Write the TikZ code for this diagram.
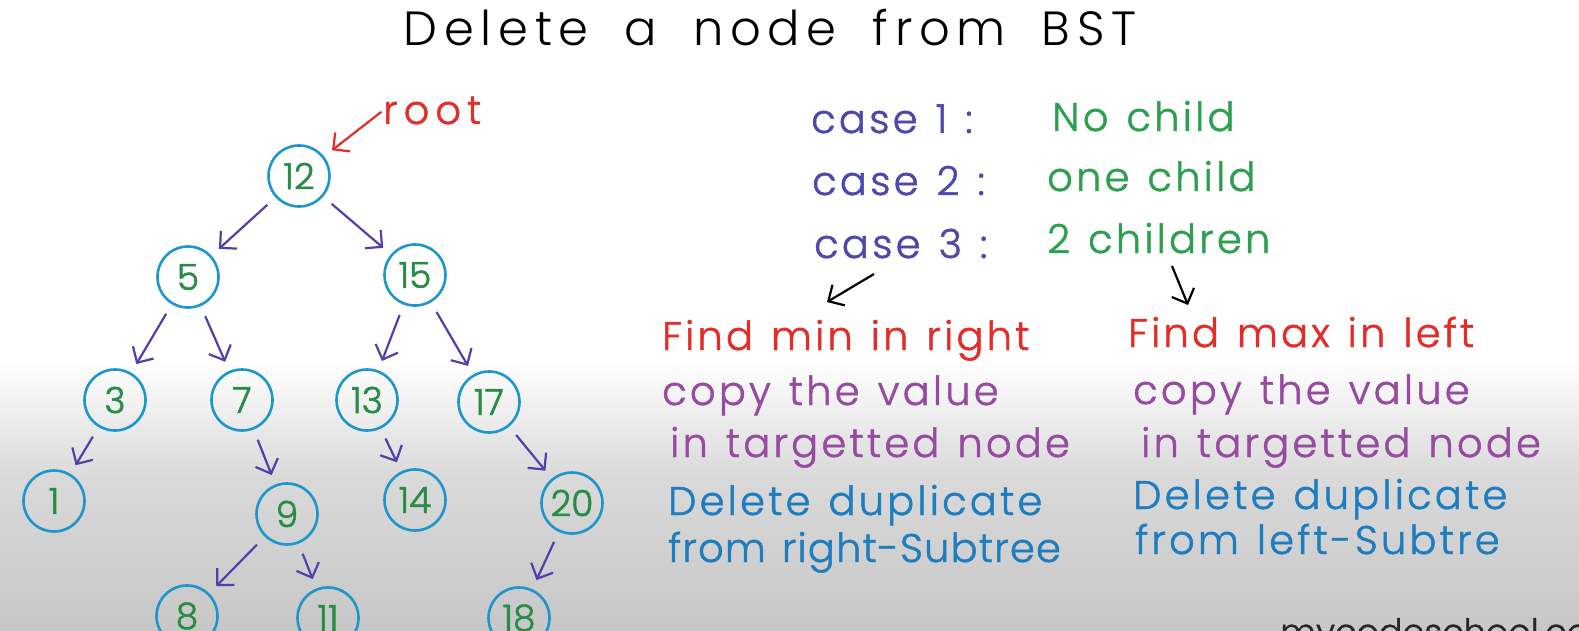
\documentclass[tikz,border=0pt]{standalone}
\usepackage{fontspec}
\setmainfont{Poppins Light}
\usetikzlibrary{arrows.meta}
\definecolor{ringblue}{RGB}{28,150,205}
\definecolor{numgreen}{RGB}{40,140,70}
\definecolor{edgeblue}{RGB}{78,66,170}
\definecolor{caseblue}{RGB}{78,72,172}
\definecolor{txtgreen}{RGB}{45,160,80}
\definecolor{txtred}{RGB}{226,45,40}
\definecolor{txtpurple}{RGB}{150,75,160}
\definecolor{txtblue}{RGB}{30,125,190}

\begin{document}
\begin{tikzpicture}[
    x=1pt, y=-1pt,
    key/.style={
        circle,
        draw=ringblue,
        line width=2.6pt,
        minimum size=61pt,
        inner sep=0pt,
        text=numgreen,
        font={\fontsize{36}{36}\selectfont\addfontfeature{FakeBold=1.5}}
    },
    edge/.style={
        -{Straight Barb[length=12pt,width=24pt]},
        draw=edgeblue,
        line width=2.2pt,
        shorten <=11pt,
        shorten >=10pt
    },
    hand/.style={
        -{Straight Barb[length=12pt,width=24pt]},
        line width=2.2pt
    },
    note/.style={
        anchor=base west,
        inner sep=0pt,
        font={\fontsize{40}{40}\selectfont\addfontfeature{LetterSpace=8,FakeBold=1.2}\spaceskip=18pt plus 4pt}
    }
]

% background
\clip (0,0) rectangle (1579,631);
\fill[white] (0,0) rectangle (1579,631);
\shade[top color=white, bottom color=black!15] (0,360) rectangle (1579,480);
\shade[top color=black!15, bottom color=black!22] (0,480) rectangle (1579,631);

% title
\node[font={\fontsize{48}{48}\selectfont\addfontfeature{LetterSpace=14}\spaceskip=36pt plus 4pt}] (title) at (770,28) {Delete a node from BST};

% tree
\node[key] (n12) at (299,176) {12};
\node[key] (n5)  at (188,277) {5};
\node[key] (n15) at (415,275) {15};
\node[key] (n3)  at (115,400) {3};
\node[key] (n7)  at (242,400) {7};
\node[key] (n13) at (367,400) {13};
\node[key] (n17) at (489,402) {17};
\node[key] (n1)  at (54,501)  {1};
\node[key] (n9)  at (287,514) {9};
\node[key] (n14) at (415,500) {14};
\node[key] (n20) at (572,503) {20};
\node[key] (n8)  at (187,616) {8};
\node[key] (n11) at (328,618) {11};
\node[key] (n18) at (519,618) {18};

\draw[edge] (n12) -- (n5);
\draw[edge] (n12) -- (n15);
\draw[edge] (n5) -- (n3);
\draw[edge] (n5) -- (n7);
\draw[edge] (n15) -- (n13);
\draw[edge] (n15) -- (n17);
\draw[edge] (n3) -- (n1);
\draw[edge] (n7) -- (n9);
\draw[edge] (n13) -- (n14);
\draw[edge] (n17) -- (n20);
\draw[edge] (n9) -- (n8);
\draw[edge] (n9) -- (n11);
\draw[edge] (n20) -- (n18);

% root pointer
\node[note, text=txtred, font={\fontsize{40}{40}\selectfont\addfontfeature{LetterSpace=15,FakeBold=1.2}}] (rootlbl) at (383,124) {root};
\draw[hand, txtred, shorten <=2pt, shorten >=10pt] (rootlbl.west) -- (n12);

% cases
\node[note, text=caseblue] (case1) at (811,133) {case 1 :};
\node[note, text=txtgreen] (nochild) at (1052,131) {No child};
\node[note, text=caseblue] (case2) at (812,195) {case 2 :};
\node[note, text=txtgreen] (onechild) at (1047,191) {one child};
\node[note, text=caseblue] (case3) at (814,258) {case 3 :};
\node[note, text=txtgreen] (twochild) at (1047,253) {2 children};

\coordinate (splitL) at (874,274);
\coordinate (splitLend) at (827,302);
\coordinate (splitR) at (1172,266);
\coordinate (splitRend) at (1188,305);
\draw[hand, black] (splitL) -- (splitLend);
\draw[hand, black] (splitR) -- (splitRend);

% left column
\node[note, text=txtred] (findmin) at (662,350) {Find min in right};
\node[note, text=txtpurple] (copyL) at (662,405) {copy the value};
\node[note, text=txtpurple] (targL) at (670,457) {in targetted node};
\node[note, text=txtblue] (dupL) at (668,515) {Delete duplicate};
\node[note, text=txtblue, font={\fontsize{40}{40}\selectfont\addfontfeature{LetterSpace=3,FakeBold=1.2}\spaceskip=16pt plus 4pt}] (fromL) at (668,562) {from right-Subtree};

% right column
\node[note, text=txtred] (findmax) at (1128,347) {Find max in left};
\node[note, text=txtpurple] (copyR) at (1133,404) {copy the value};
\node[note, text=txtpurple] (targR) at (1141,457) {in targetted node};
\node[note, text=txtblue] (dupR) at (1133,509) {Delete duplicate};
\node[note, text=txtblue] (fromR) at (1135,554) {from left-Subtre};

% watermark
\node[note, text=black!85, font={\fontsize{35}{35}\selectfont\addfontfeature{FakeBold=1}}] (wmark) at (1280,644) {mycodeschool.com};

\end{tikzpicture}
\end{document}
